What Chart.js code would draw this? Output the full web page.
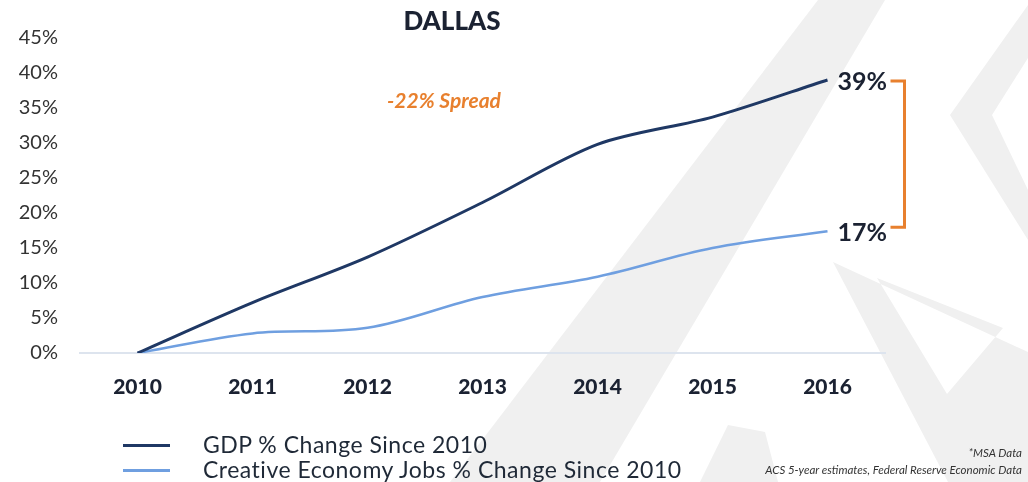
<!DOCTYPE html>
<html>
<head>
<meta charset="utf-8">
<script src="https://cdn.jsdelivr.net/npm/chart.js@4"></script>
<style>
  html, body { margin: 0; padding: 0; background: #fff; }
  #wrap { position: relative; width: 1028px; height: 482px; overflow: hidden; font-family: "Lato", sans-serif; }
  #bg { position: absolute; left: 0; top: 0; }
  #chart-box { position: absolute; left: 0; top: 0; width: 1028px; height: 482px; }
  .legend { position: absolute; left: 123px; color: #1f2937; font-size: 23px; letter-spacing: 0.5px; }
  .legend .row { position: absolute; left: 0; white-space: nowrap; height: 26px; line-height: 26px; }
  .legend .swatch { display: inline-block; width: 47px; height: 3px; vertical-align: middle; margin-right: 33px; position: relative; top: -2px; }
  .note { position: absolute; right: 6px; font-style: italic; font-size: 11.5px; color: #333; text-align: right; white-space: nowrap; }
</style>
</head>
<body>
<div id="wrap">
  <svg id="bg" width="1028" height="482">
    <g fill="#f0f0f0">
      <polygon points="450,482 600,482 885,0 818,0"/>
      <polygon points="1028,5 950,115 1028,240 1028,190 992,115 1028,58"/>
      <path fill-rule="evenodd" d="M833,262 L1028,352 L1028,482 L948,482 Z M877,278 L1003,328 L947,394 Z"/>
      <polygon points="700,482 728,425 765,432 778,482"/>
    </g>
  </svg>
  <div id="chart-box"><canvas id="chart-dallas"></canvas></div>
  <div class="legend">
    <div class="row" style="top:431px"><span class="swatch" style="background:#1f3864"></span>GDP % Change Since 2010</div>
    <div class="row" style="top:456px"><span class="swatch" style="background:#6f9fe0"></span>Creative Economy Jobs % Change Since 2010</div>
  </div>
  <div class="note" style="top:446px">*MSA Data</div>
  <div class="note" style="top:463px">ACS 5-year estimates, Federal Reserve Economic Data</div>
</div>
<script>
// Dallas: GDP vs creative economy jobs, % change since 2010

const years = ["2010", "2011", "2012", "2013", "2014", "2015", "2016"];
const gdpChange = [0, 7.2, 13.7, 21.5, 29.8, 33.7, 39.0];
const creativeJobsChange = [0, 2.8, 3.6, 8.0, 10.9, 15.0, 17.4];
const yTicks = [0, 5, 10, 15, 20, 25, 30, 35, 40, 45];
const endLabels = ["39%", "17%"];
const titleText = "DALLAS";
const spreadText = "-22% Spread";

const ORANGE = "#e8802e";
const DARK = "#1b2232";

const annotations = {
  id: "annotations",
  afterDatasetsDraw(chart) {
    const { ctx, scales } = chart;
    const x = scales.x;
    const y = scales.y;
    const last = years.length - 1;
    const xEnd = x.getPixelForValue(last);
    const yTop = y.getPixelForValue(gdpChange[last]);
    const yBot = y.getPixelForValue(creativeJobsChange[last]);

    ctx.save();
    ctx.textBaseline = "middle";

    // title
    ctx.fillStyle = DARK;
    ctx.textAlign = "center";
    ctx.font = "900 26px Lato";
    ctx.fillText(titleText, 452, 22);

    // spread label
    ctx.fillStyle = ORANGE;
    ctx.font = "italic bold 21px Lato";
    ctx.fillText(spreadText, 444, 101);

    // end labels
    ctx.fillStyle = DARK;
    ctx.textAlign = "left";
    ctx.font = "bold 25px Lato";
    ctx.fillText(endLabels[0], xEnd + 10, yTop + 2);
    ctx.fillText(endLabels[1], xEnd + 10, yBot + 2);

    // bracket
    const bx = xEnd + 77;
    ctx.strokeStyle = ORANGE;
    ctx.lineWidth = 3;
    ctx.beginPath();
    ctx.moveTo(bx - 14, yTop + 1);
    ctx.lineTo(bx, yTop + 1);
    ctx.lineTo(bx, yBot - 4);
    ctx.lineTo(bx - 14, yBot - 4);
    ctx.stroke();
    ctx.restore();
  },
};

const ctx = document.getElementById("chart-dallas").getContext("2d");

new Chart(ctx, {
  type: "line",
  data: {
    labels: years,
    datasets: [
      {
        label: "GDP % Change Since 2010",
        data: gdpChange,
        borderColor: "#1f3864",
        borderWidth: 3,
        pointRadius: 0,
        tension: 0.3,
        fill: false,
      },
      {
        label: "Creative Economy Jobs % Change Since 2010",
        data: creativeJobsChange,
        borderColor: "#6f9fe0",
        borderWidth: 2.5,
        pointRadius: 0,
        tension: 0.35,
        fill: false,
      },
    ],
  },
  options: {
    responsive: true,
    maintainAspectRatio: false,
    animation: false,
    layout: {
      padding: { top: 38, right: 143, bottom: 0, left: 0 },
    },
    plugins: {
      legend: { display: false },
      tooltip: { enabled: false },
    },
    scales: {
      x: {
        offset: true,
        afterFit: (s) => { s.height = 129; },
        grid: { display: false, drawTicks: false },
        border: { display: true, color: "#dde4ee", width: 2 },
        ticks: {
          color: DARK,
          padding: 22,
          font: { family: "Lato", size: 21, weight: "900" },
        },
      },
      y: {
        min: 0,
        max: 45,
        afterFit: (s) => { s.width = 80; },
        afterBuildTicks: (s) => { s.ticks = yTicks.map((v) => ({ value: v })); },
        grid: { display: false, drawTicks: false },
        border: { display: false },
        ticks: {
          color: "#333",
          padding: 22,
          font: { family: "Lato", size: 20 },
          callback: (v) => v + "%",
        },
      },
    },
  },
  plugins: [annotations],
});
</script>
</body>
</html>
